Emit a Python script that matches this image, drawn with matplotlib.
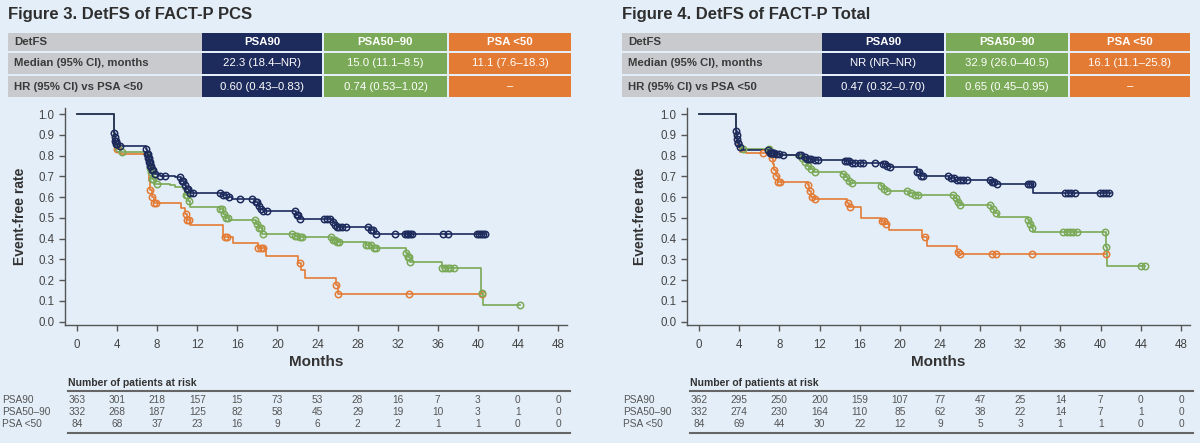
import numpy as np
import matplotlib
matplotlib.use("Agg")
import matplotlib.pyplot as plt
from matplotlib.patches import Rectangle
from matplotlib.transforms import blended_transform_factory

plt.rcParams['font.family'] = ['Liberation Sans', 'DejaVu Sans']

W, H = 1200, 443
BG = '#e4eef8'
NAVY = '#1d2a5c'
GREEN = '#7aa957'
ORANGE = '#e37b35'
GREY = '#c8cacd'
TXT = '#3a3a3a'

# ---------------- data ----------------
titles = ['Figure 3. DetFS of FACT-P PCS', 'Figure 4. DetFS of FACT-P Total']
groups = ['PSA90', 'PSA50–90', 'PSA <50']
row_labels = ['DetFS', 'Median (95% CI), months', 'HR (95% CI) vs PSA <50']
median_3 = ['22.3 (18.4–NR)', '15.0 (11.1–8.5)', '11.1 (7.6–18.3)']
hr_3 = ['0.60 (0.43–0.83)', '0.74 (0.53–1.02)', '–']
median_4 = ['NR (NR–NR)', '32.9 (26.0–40.5)', '16.1 (11.1–25.8)']
hr_4 = ['0.47 (0.32–0.70)', '0.65 (0.45–0.95)', '–']

risk_months = [0, 4, 8, 12, 16, 20, 24, 28, 32, 36, 40, 44, 48]
risk3_psa90 = [363, 301, 218, 157, 15, 73, 53, 28, 16, 7, 3, 0, 0]
risk3_psa5090 = [332, 268, 187, 125, 82, 58, 45, 29, 19, 10, 3, 1, 0]
risk3_psa50 = [84, 68, 37, 23, 16, 9, 6, 2, 2, 1, 1, 0, 0]
risk4_psa90 = [362, 295, 250, 200, 159, 107, 77, 47, 25, 14, 7, 0, 0]
risk4_psa5090 = [332, 274, 230, 164, 110, 85, 62, 38, 22, 14, 7, 1, 0]
risk4_psa50 = [84, 69, 44, 30, 22, 12, 9, 5, 3, 1, 1, 0, 0]

# Figure 3 KM curves: event times / survival after event, censor times, end time
f3_psa90_t = [3.7, 3.75, 3.8, 3.9, 4.2, 6.9, 7.0, 7.1, 7.2, 7.3, 7.5, 7.7, 8.3, 9.8, 10.4, 10.7, 10.9, 11.2,
              14.5, 15.0, 15.5, 17.8, 18.1, 18.3, 18.6, 21.9, 22.2, 25.5, 25.7, 25.9, 29.2, 29.6]
f3_psa90_s = [0.91, 0.89, 0.87, 0.855, 0.845, 0.83, 0.81, 0.79, 0.77, 0.75, 0.73, 0.71, 0.70, 0.695, 0.68, 0.66, 0.64, 0.62,
              0.61, 0.60, 0.59, 0.575, 0.56, 0.545, 0.535, 0.515, 0.495, 0.48, 0.465, 0.455, 0.44, 0.425]
f3_psa90_c = [3.7, 3.75, 3.8, 3.85, 3.9, 4.0, 4.3, 6.9, 7.0, 7.05, 7.1, 7.15, 7.2, 7.25, 7.3, 7.4, 7.5, 7.6, 7.8, 8.3, 8.8,
              10.3, 10.5, 10.6, 10.8, 11.0, 11.1, 11.3, 11.6, 14.3, 14.6, 14.9, 15.2, 16.3, 17.5, 17.9, 18.0, 18.2,
              18.4, 18.6, 19.0, 21.8, 22.0, 22.1, 22.3, 24.6, 24.9, 25.2, 25.5, 25.7, 25.9, 26.1, 26.4, 26.8,
              29.0, 29.3, 29.5, 29.8, 31.7, 32.7, 32.9, 33.0, 33.2, 33.4, 36.5, 37.0, 39.9, 40.1, 40.3, 40.5, 40.7]
f3_psa90_end = 40.7

f3_psa5090_t = [3.7, 3.8, 4.0, 4.3, 7.2, 7.3, 7.4, 7.5, 7.7, 9.3, 9.8, 10.6, 10.9, 11.1, 11.3, 14.3, 14.6, 14.9, 15.2,
                17.9, 18.2, 18.5, 21.8, 22.3, 25.4, 25.9, 28.8, 29.4, 32.8, 33.0, 33.2, 36.4, 40.3, 40.5]
f3_psa5090_s = [0.88, 0.85, 0.835, 0.82, 0.78, 0.74, 0.72, 0.69, 0.665, 0.66, 0.65, 0.64, 0.61, 0.58, 0.555, 0.545, 0.52, 0.50, 0.49,
                0.47, 0.45, 0.425, 0.415, 0.406, 0.395, 0.385, 0.37, 0.356, 0.33, 0.31, 0.289, 0.257, 0.14, 0.081]
f3_psa5090_c = [4.1, 4.5, 7.3, 7.4, 7.5, 7.6, 8.0, 10.9, 11.0, 11.2, 14.3, 14.5, 14.7, 14.9, 15.1, 17.8, 18.0, 18.2, 18.4,
                18.6, 21.5, 21.8, 22.0, 22.3, 22.5, 25.3, 25.5, 25.7, 25.9, 26.1, 28.8, 29.0, 29.3, 29.6, 29.8,
                32.8, 33.0, 33.1, 33.2, 36.4, 36.7, 37.0, 37.2, 37.6, 40.4, 44.2]
f3_psa5090_end = 44.2

f3_psa50_t = [3.7, 3.9, 4.3, 7.2, 7.3, 7.5, 7.7, 10.4, 10.8, 11.0, 11.3, 14.6, 15.6, 18.1, 18.9, 22.1, 22.4, 22.8, 25.8, 26.0]
f3_psa50_s = [0.87, 0.83, 0.81, 0.68, 0.634, 0.60, 0.57, 0.55, 0.52, 0.49, 0.465, 0.41, 0.38, 0.355, 0.316, 0.283, 0.249, 0.21, 0.177, 0.133]
f3_psa50_c = [4.0, 7.3, 7.5, 7.7, 7.9, 10.9, 11.0, 11.2, 14.8, 15.0, 18.1, 18.4, 18.6, 22.3, 25.8, 26.0, 33.1, 40.4]
f3_psa50_end = 40.4

# Figure 4 KM curves
f4_psa90_t = [3.7, 3.75, 3.8, 3.85, 3.95, 4.2, 7.0, 7.6, 8.2, 10.3, 10.8, 11.3, 14.5, 15.0, 18.3, 18.7, 19.0,
              21.7, 22.1, 24.9, 25.5, 29.1, 29.5, 33.3]
f4_psa90_s = [0.92, 0.90, 0.88, 0.86, 0.84, 0.826, 0.815, 0.81, 0.803, 0.795, 0.785, 0.778, 0.773, 0.767, 0.76, 0.75, 0.745,
              0.72, 0.70, 0.692, 0.685, 0.675, 0.666, 0.62]
f4_psa90_c = [3.7, 3.75, 3.8, 3.85, 3.9, 4.1, 6.9, 7.1, 7.2, 7.3, 7.4, 7.5, 7.7, 8.0, 8.4, 10.0, 10.2, 10.6, 10.8,
              11.0, 11.2, 11.5, 11.8, 14.5, 14.7, 14.9, 15.2, 15.5, 16.0, 16.3, 17.5, 18.3, 18.5, 18.7, 19.0,
              21.7, 21.9, 22.1, 22.3, 24.8, 25.1, 25.4, 25.7, 26.0, 26.3, 26.7, 29.0, 29.2, 29.4, 29.7,
              32.8, 33.0, 33.2, 36.4, 36.7, 37.0, 37.4, 39.9, 40.2, 40.5, 40.8]
f4_psa90_end = 41.0

f4_psa5090_t = [3.7, 3.8, 4.0, 4.4, 7.1, 7.6, 9.7, 10.2, 10.5, 10.8, 11.1, 11.4, 14.2, 14.5, 14.8, 15.0, 18.1, 18.4, 18.7,
                20.8, 21.5, 25.4, 25.7, 26.0, 29.1, 29.4, 29.8, 32.8, 33.0, 33.2, 33.3, 40.5, 40.6]
f4_psa5090_s = [0.90, 0.86, 0.84, 0.833, 0.815, 0.805, 0.795, 0.787, 0.77, 0.75, 0.735, 0.722, 0.71, 0.695, 0.68, 0.67, 0.655, 0.64, 0.63,
                0.62, 0.61, 0.595, 0.575, 0.562, 0.545, 0.525, 0.506, 0.49, 0.47, 0.45, 0.43, 0.36, 0.27]
f4_psa5090_c = [4.4, 7.0, 7.2, 7.4, 10.3, 10.6, 10.9, 11.2, 11.5, 14.3, 14.6, 14.9, 15.2, 18.1, 18.4, 18.7, 20.7, 21.1,
                21.5, 21.8, 25.3, 25.6, 25.8, 26.0, 29.0, 29.3, 29.6, 32.8, 33.0, 33.2, 36.3, 36.6, 36.9, 37.2, 37.6,
                40.4, 40.55, 44.0, 44.4]
f4_psa5090_end = 44.4

f4_psa50_t = [3.7, 3.9, 4.1, 4.7, 7.2, 7.4, 7.5, 7.7, 7.9, 10.9, 11.0, 11.2, 11.4, 14.7, 14.9, 16.1, 18.1, 18.5, 18.9,
              22.2, 22.7, 25.7, 25.9]
f4_psa50_s = [0.88, 0.84, 0.82, 0.814, 0.787, 0.76, 0.73, 0.70, 0.675, 0.66, 0.63, 0.60, 0.589, 0.57, 0.554, 0.50, 0.485, 0.47, 0.441,
              0.409, 0.366, 0.335, 0.324]
f4_psa50_c = [6.4, 7.3, 7.5, 7.7, 7.9, 8.1, 10.9, 11.1, 11.3, 11.5, 14.8, 15.0, 18.2, 18.4, 18.6, 22.5, 25.8, 26.0,
              29.2, 29.6, 33.2, 40.5]
f4_psa50_end = 40.5

# ---------------- drawing ----------------
fig = plt.figure(figsize=(W / 100, H / 100), dpi=100, facecolor=BG)


def fx(px):
    return px / W


def fy(py):
    return 1 - py / H


def rect(x0, y0, x1, y1, color):
    fig.add_artist(Rectangle((fx(x0), fy(y1)), (x1 - x0) / W, (y1 - y0) / H,
                             transform=fig.transFigure, facecolor=color, edgecolor='none'))


def draw_table(x0, cols, title, median, hr):
    fig.text(fx(x0), fy(15), title, fontsize=12, fontweight='bold', color='#2e2e2e', va='center', ha='left')
    rows = [(33, 51), (53, 74), (76, 97)]
    colors = [NAVY, GREEN, ORANGE]
    contents = [groups, median, hr]
    for r, (ya, yb) in enumerate(rows):
        rect(cols[0], ya, cols[1], yb, GREY)
        fig.text(fx(cols[0] + 6), fy((ya + yb) / 2), row_labels[r], fontsize=8.2, fontweight='bold',
                 color=TXT, va='center', ha='left')
        for c in range(3):
            xa = cols[c + 1] + (2 if c > 0 else 0)
            xb = cols[c + 2]
            rect(xa, ya, xb, yb, colors[c])
            fig.text(fx((xa + xb) / 2), fy((ya + yb) / 2), contents[r][c], fontsize=8.2,
                     fontweight='bold' if r == 0 else 'normal', color='white', va='center', ha='center')


draw_table(8, [8, 202, 322, 447, 571], titles[0], median_3, hr_3)
draw_table(622, [622, 822, 944, 1068, 1190], titles[1], median_4, hr_4)


def km(ax, t, s, c, end, color, lw=1.2):
    tt = np.concatenate([[0.0], t, [end]])
    ss = np.concatenate([[1.0], s, [s[-1]]])
    ax.step(tt, ss, where='post', color=color, lw=lw, zorder=3)
    c = np.asarray(c)
    idx = np.searchsorted(np.asarray(t), c, side='right') - 1
    cs = np.where(idx >= 0, np.asarray(s)[np.clip(idx, 0, None)], 1.0)
    ax.plot(c, cs, 'o', ms=4.6, mfc='none', mec=color, mew=1.1, zorder=4)


def make_axes(px_left, px_right, curves, risks, label_x, ylabel_x):
    top, bottom = 108, 325
    ax = fig.add_axes([fx(px_left), fy(bottom), (px_right - px_left) / W, (bottom - top) / H])
    ax.set_facecolor('none')
    for sp in ['top', 'right']:
        ax.spines[sp].set_visible(False)
    for sp in ['left', 'bottom']:
        ax.spines[sp].set_color('#555555')
        ax.spines[sp].set_linewidth(1.0)
    ax.set_xlim(-1.2, 48.9)
    ax.set_ylim(-0.016, 1.03)
    ax.set_xticks(np.arange(0, 49, 4))
    ax.set_yticks(np.round(np.arange(0, 1.01, 0.1), 1))
    ax.set_yticklabels([f'{v:.1f}' for v in np.arange(0, 1.01, 0.1)])
    ax.tick_params(colors='#555555', labelsize=8.3, length=4, width=1.0, labelcolor='#444444')
    ax.tick_params(axis='x', pad=6)
    ax.set_xlabel('Months', fontsize=11, fontweight='bold', color='#333333', labelpad=3)
    for (t, s, c, end, col) in curves:
        km(ax, t, s, c, end, col)
    fig.text(fx(ylabel_x), (fy(top) + fy(bottom)) / 2, 'Event-free rate', rotation=90, fontsize=10,
             fontweight='bold', color='#333333', va='center', ha='center')
    # risk table
    tr = blended_transform_factory(ax.transData, fig.transFigure)
    x_line0 = px_left + 3
    fig.text(fx(x_line0), fy(383), 'Number of patients at risk', fontsize=7.5, fontweight='bold',
             color='#333333', va='center', ha='left')
    fig.add_artist(plt.Line2D([fx(x_line0), fx(px_right + 3)], [fy(391), fy(391)], color='#666666', lw=1.5))
    fig.add_artist(plt.Line2D([fx(x_line0), fx(px_right + 3)], [fy(433), fy(433)], color='#666666', lw=1.5))
    for i, (name, vals) in enumerate(zip(groups, risks)):
        y = fy(400 + 12 * i)
        fig.text(fx(label_x), y, name, fontsize=7.3, color='#555555', va='center', ha='left')
        for m, v in zip(risk_months, vals):
            ax.text(m, y, str(v), transform=tr, fontsize=7.3, color='#555555', va='center', ha='center')
    return ax


make_axes(65, 567,
          [(f3_psa90_t, f3_psa90_s, f3_psa90_c, f3_psa90_end, NAVY),
           (f3_psa5090_t, f3_psa5090_s, f3_psa5090_c, f3_psa5090_end, GREEN),
           (f3_psa50_t, f3_psa50_s, f3_psa50_c, f3_psa50_end, ORANGE)][::-1],
          [risk3_psa90, risk3_psa5090, risk3_psa50], 2, 20)

make_axes(687, 1190,
          [(f4_psa90_t, f4_psa90_s, f4_psa90_c, f4_psa90_end, NAVY),
           (f4_psa5090_t, f4_psa5090_s, f4_psa5090_c, f4_psa5090_end, GREEN),
           (f4_psa50_t, f4_psa50_s, f4_psa50_c, f4_psa50_end, ORANGE)][::-1],
          [risk4_psa90, risk4_psa5090, risk4_psa50], 623, 640)

fig.savefig('out.png', dpi=100, facecolor=BG)
